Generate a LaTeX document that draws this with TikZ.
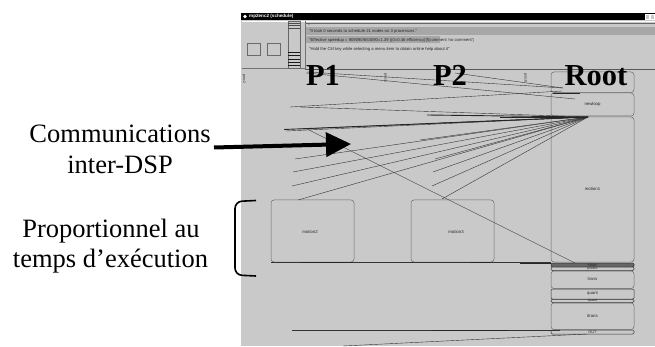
\documentclass[tikz,border=0pt]{standalone}
\usepackage{fontspec}
\setmainfont{Liberation Serif}
\newfontfamily\uisans{Liberation Sans}
\usetikzlibrary{arrows.meta}
\definecolor{gantt}{HTML}{C9C9C9}
\definecolor{band}{HTML}{A7A7A7}
\definecolor{boxline}{HTML}{6A6A6A}
\begin{document}
\begin{tikzpicture}[x=1pt,y=-1pt,
  tinylbl/.style={font=\uisans\fontsize{4.3}{5}\selectfont, inner sep=0, text=black!85},
  infotxt/.style={font=\uisans\fontsize{4.2}{5}\selectfont, inner sep=0, anchor=west, text=black!85},
  bigp/.style={font=\bfseries\fontsize{30.5}{31}\selectfont, inner sep=0, anchor=base},
  annot/.style={font=\fontsize{26.5}{28}\selectfont, inner sep=0, anchor=base},
  task/.style={draw=boxline, fill=gantt, rounded corners=3pt, line width=0.5pt},
  thintask/.style={draw=black!80, fill=gantt, rounded corners=1.2pt, line width=0.5pt},
  comm/.style={draw=black!80, line width=0.4pt},
  commthick/.style={draw=black!85, line width=0.9pt}]
\useasboundingbox (0,0) rectangle (655,347);
\fill[white] (0,0) rectangle (655,347);
% window
\fill[gantt] (241,20) rectangle (655,346);
\fill[black] (241,13) rectangle (655,20);
\fill[white] (245,16.5) circle (1.8);
\node[font=\uisans\bfseries\fontsize{4.6}{5}\selectfont, text=white, anchor=west, inner sep=0] (title) at (249,16.5) {mp2enc2 (schedule)};
\draw[fill=gantt, draw=white] (645,14.5) rectangle (649.5,19);
\draw[fill=gantt, draw=white] (650.5,14.5) rectangle (654.5,19);
% left panel
\draw[white, line width=0.6pt] (242,21) -- (305,21);
\draw[black!55, line width=0.6pt] (242,68) -- (305,68) -- (305,21);
\draw[boxline, line width=0.5pt] (247,43) rectangle (260,55);
\draw[boxline, line width=0.5pt] (267,43) rectangle (280,55);
\draw[black!60, line width=0.5pt] (288,21) rectangle (300,68);
\foreach \yy in {23,25.5,28.5} \draw[black!70, line width=0.5pt] (288,\yy) -- (300,\yy);
\foreach \yy in {52,55.5,59,62.5,65.5} \draw[black!90, line width=0.8pt] (288,\yy) -- (300,\yy);
% info area
\draw[white, line width=0.8pt] (306,21.5) -- (655,21.5);
\draw[black!60, line width=0.6pt] (306,23) -- (655,23);
\fill[band] (306,27) rectangle (655,35);
\fill[band] (306,36) rectangle (440,43.5);
\node[font=\uisans\fontsize{3.5}{4}\selectfont, inner sep=0, text=black!70] (xmark) at (309,24.5) {x};
\node[infotxt] (info1) at (309,31) {"It took 0 seconds to schedule 21 nodes on 3 processors."};
\node[infotxt] (info2) at (309,40) {"Effective speedup = 909090/653090=1.39 ((0=0.46 efficiency)(f(comment 'no comment')};
\node[infotxt] (info3) at (309,49) {"Hold the Ctrl key while selecting a menu item to obtain online help about it"};
\draw[black!65, line width=0.9pt] (305,69) -- (655,69);
% column tiny labels
\node[tinylbl, rotate=-90, font=\uisans\fontsize{3.6}{4}\selectfont] (c2) at (244,79) {proc2};
\node[tinylbl, rotate=-90, font=\uisans\fontsize{3.6}{4}\selectfont] (c1) at (385.5,78) {proc1};
\node[tinylbl, rotate=-90, font=\uisans\fontsize{3.6}{4}\selectfont] (c0) at (525.5,78) {proc0};
% task boxes
\draw[task] (551,72) rectangle (634,92.5);
\draw[task] (551,93) rectangle (634,116);
\draw[task] (551,117) rectangle (634,262);
\draw[task] (271,200) rectangle (354,262);
\draw[task] (411,200) rectangle (494,262);
\draw[thintask, fill=black!60] (551,263) rectangle (634,267);
\draw[thintask] (551,267) rectangle (634,270.5);
\draw[task] (551,271) rectangle (634,288.5);
\draw[thintask] (551,289) rectangle (634,299);
\draw[thintask] (551,299.3) rectangle (634,302.5);
\draw[task] (551,303) rectangle (634,329.5);
\draw[thintask] (551,330) rectangle (634,334);
\node[tinylbl] (newloop) at (592.5,104.5) {newloop};
\node[tinylbl] (motion1) at (592.5,189) {motion1};
\node[tinylbl] (motion2) at (310,232) {motion2};
\node[tinylbl] (motion3) at (456,232) {motion3};
\node[tinylbl, font=\uisans\fontsize{3.4}{4}\selectfont] (swap) at (592.5,265) {SWAP};
\node[tinylbl, font=\uisans\fontsize{3.4}{4}\selectfont] (pred) at (592.5,268.8) {predict};
\node[tinylbl] (trans) at (592.5,279.5) {trans};
\node[tinylbl] (quant) at (592.5,294) {quant};
\node[tinylbl, font=\uisans\fontsize{3.4}{4}\selectfont] (iquant) at (592.5,301) {iquant};
\node[tinylbl] (itrans) at (592.5,316) {itrans};
\node[tinylbl, font=\uisans\fontsize{3.8}{4}\selectfont] (out) at (592.5,332) {OUT};
% communication lines
\coordinate (C) at (588,117);
\coordinate (R) at (563,88);
\foreach \p in {(286,131),(300,129),(295,159),(293,172),(292,186),(298,200),
                (435,159),(433,172),(432,186),(442,199),(300,107),(440,123),(420,140)}
  \draw[comm] \p -- (C);
\draw[commthick] (284,129.5) -- (C);
\draw[commthick] (427,115) -- (C);
\draw[commthick] (500,117) -- (C);
\draw[comm] (290,107) -- (562,91);
\draw[comm] (307,72) -- (R);
\draw[comm] (306,73) -- (575,99);
\draw[comm] (455,73) -- (R);
\draw[commthick] (553,93) -- (580,93);
\draw[comm] (307,129) -- (575,263);
% bottom lines
\draw[comm] (271,262.5) -- (551,262.5);
\draw[commthick] (300,262.5) -- (352,262.5);
\draw[commthick] (470,262.5) -- (490,262.5);
\draw[commthick] (520,263) -- (551,263);
\draw[comm] (292,330) -- (560,330);
\draw[commthick] (432,330.5) -- (508,330.5);
\draw[comm] (343,346) -- (587,334);
% big labels
\node[bigp] (p1) at (323,86) {P1};
\node[bigp] (p2) at (450,86) {P2};
\node[bigp] (root) at (596,86) {Root};
% annotations
\node[annot] (comm1) at (120,143) {Communications};
\node[annot] (comm2) at (120,174) {inter-DSP};
\node[annot] (prop1) at (111,237) {Proportionnel au};
\node[annot] (prop2) at (110.5,267) {temps d’exécution};
\coordinate (arrS) at (214,147.5);
\coordinate (arrE) at (351,144);
\draw[line width=4pt, -{Triangle[length=25pt,width=24pt]}] (arrS) -- (arrE);
\draw[line width=1.6pt, rounded corners=7pt] (256,200.5) -- (235,201.5) -- (235,275) -- (256,276);
\end{tikzpicture}
\end{document}
